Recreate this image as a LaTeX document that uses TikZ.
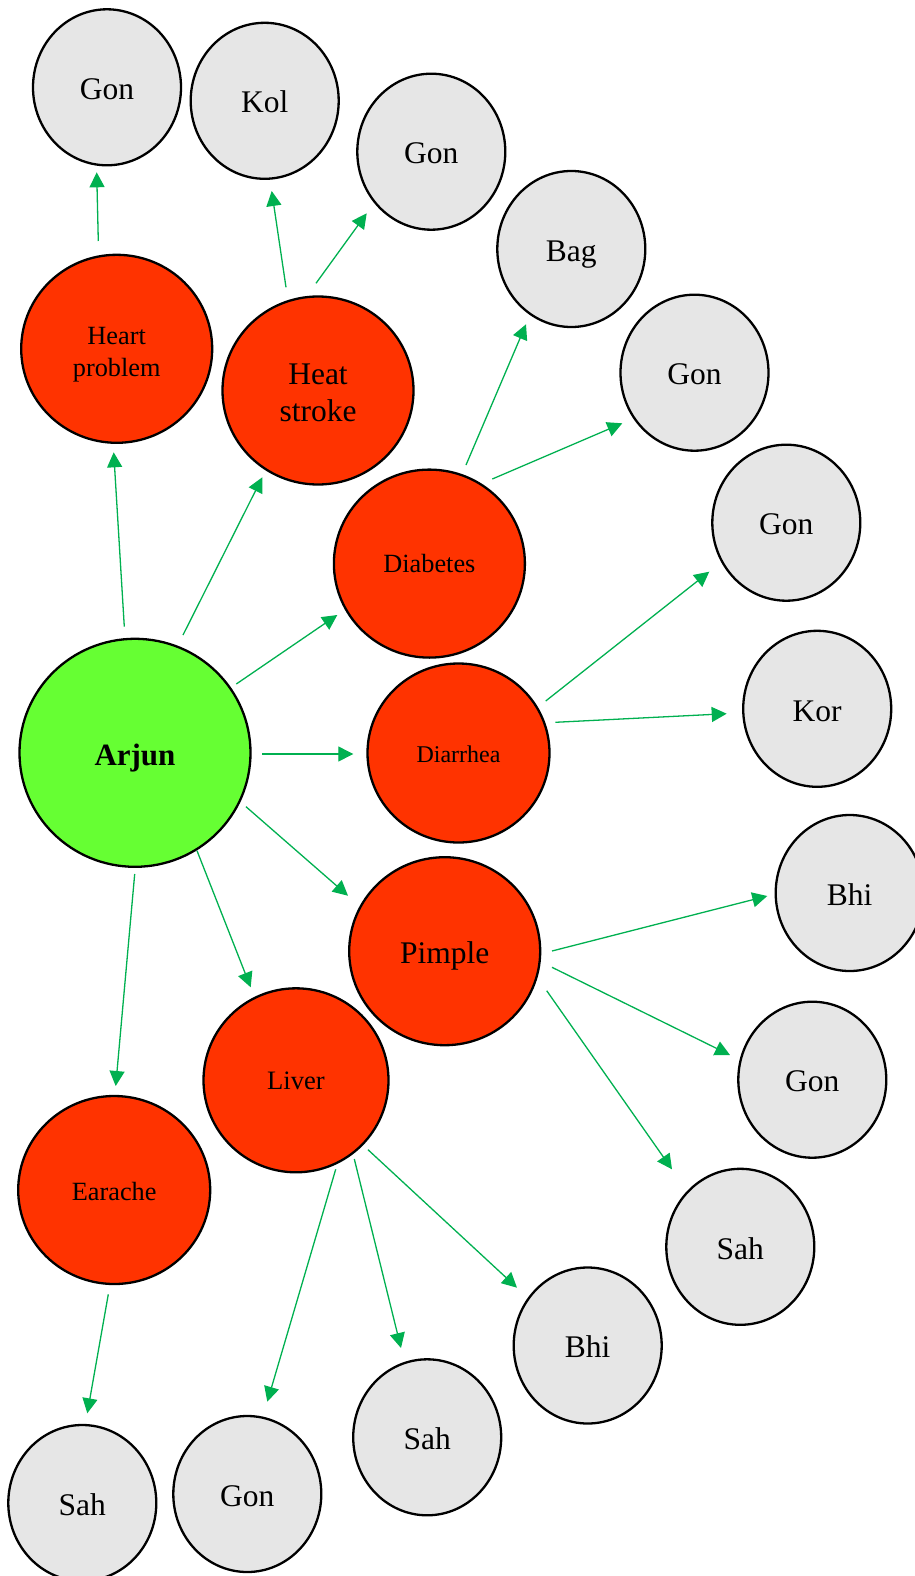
\documentclass[tikz,border=0pt]{standalone}
\usepackage{fontspec}
\setmainfont{Liberation Serif}
\usetikzlibrary{shapes.geometric,arrows.meta,calc}
\definecolor{rootgreen}{HTML}{66FF33}
\definecolor{disred}{HTML}{FF3300}
\definecolor{leafgrey}{HTML}{E6E6E6}
\definecolor{arrgreen}{HTML}{00B050}
\newcommand{\twolines}[3]{\raisebox{0pt}[\dimexpr\height+#1\relax]{\begin{tabular}{@{}c@{}}#2\\#3\end{tabular}}}
\tikzset{
  root/.style={ellipse,draw=black,line width=2.3pt,fill=rootgreen,minimum width=231pt,minimum height=228pt,inner sep=0pt,text height=25.8pt,text depth=0pt,font=\fontsize{31}{36}\selectfont\bfseries},
  dis/.style={ellipse,draw=black,line width=2.3pt,fill=disred,minimum width=191pt,minimum height=188pt,inner sep=0pt,font=\fontsize{26.3}{32.2}\selectfont},
  disbig/.style={dis,font=\fontsize{31.5}{37}\selectfont},
  leaf/.style={ellipse,draw=black,line width=2.3pt,fill=leafgrey,minimum width=148pt,minimum height=156pt,inner sep=0pt,text height=24.4pt,text depth=0pt,font=\fontsize{31.5}{36}\selectfont},
  arr/.style={draw=arrgreen,line width=1.3pt,-{Triangle[length=15pt,width=15pt]},arrgreen}
}
\begin{document}
\begin{tikzpicture}[x=1pt,y=-1pt]
\useasboundingbox (0,0) rectangle (915,1576);
\clip (0,0) rectangle (915,1576);
% root
\node[root] (arjun) at (135,752.8) {Arjun};
% diseases
\node[dis] (heart) at (116.7,348.8) {\twolines{10.5pt}{Heart}{problem}};
\node[disbig] (heat) at (318,390.5) {\twolines{10pt}{Heat}{stroke}};
\node[dis,text height=17.4pt,text depth=0pt] (diab) at (429.4,563.6) {Diabetes};
\node[dis,minimum width=182pt,minimum height=179pt,text height=18.6pt,text depth=0pt,font=\fontsize{24}{28}\selectfont] (diar) at (458.5,753) {Diarrhea};
\node[disbig,text height=24.2pt,text depth=0pt] (pimple) at (444.7,951.2) {Pimple};
\node[dis,minimum width=185pt,minimum height=184pt,text height=18pt,text depth=0pt,font=\fontsize{26.6}{31}\selectfont] (liver) at (296,1080.3) {Liver};
\node[dis,minimum width=192pt,text height=20pt,text depth=0pt] (earache) at (114.2,1190) {Earache};
% leaves
\node[leaf] (g1) at (107,87.3) {Gon};
\node[leaf] (g2) at (264.7,100.8) {Kol};
\node[leaf] (g3) at (431.3,151.7) {Gon};
\node[leaf] (g4) at (571.3,249) {Bag};
\node[leaf] (g5) at (694.5,372.7) {Gon};
\node[leaf] (g6) at (786.3,522.7) {Gon};
\node[leaf] (g7) at (817.2,708.8) {Kor};
\node[leaf] (g8) at (849.7,893) {Bhi};
\node[leaf] (g9) at (812.3,1079.7) {Gon};
\node[leaf] (g10) at (740.3,1246.8) {Sah};
\node[leaf] (g11) at (587.7,1345.5) {Bhi};
\node[leaf] (g12) at (427.2,1437.3) {Sah};
\node[leaf] (g13) at (247.3,1494) {Gon};
\node[leaf] (g14) at (82.3,1503) {Sah};
% connectors
\draw[arr] ($(arjun.center)+(-10.7,-126.1)$) -- ($(heart.center)+(-3,103.5)$);
\draw[arr] ($(arjun.center)+(48,-117.8)$) -- ($(heat.center)+(-55.7,86.8)$);
\draw[arr] ($(arjun.center)+(101.3,-68.8)$) -- ($(diab.center)+(-92.1,51.4)$);
\draw[arr] ($(arjun.center)+(127.3,1.2)$) -- ($(diar.center)+(-105.2,1)$);
\draw[arr] ($(arjun.center)+(111,53.9)$) -- ($(pimple.center)+(-96.7,-55.5)$);
\draw[arr] ($(arjun.center)+(62,97.9)$) -- ($(liver.center)+(-45.3,-93)$);
\draw[arr] ($(arjun.center)+(-0.3,121.2)$) -- ($(earache.center)+(1.5,-104)$);
\draw[arr] ($(heart.center)+(-18.4,-107.8)$) -- ($(g1.center)+(-10.3,85)$);
\draw[arr] ($(heat.center)+(-32,-103.2)$) -- ($(g2.center)+(7,90.2)$);
\draw[arr] ($(heat.center)+(-2,-107.2)$) -- ($(g3.center)+(-64.6,61.6)$);
\draw[arr] ($(diab.center)+(36.6,-98.6)$) -- ($(g4.center)+(-45.3,75.3)$);
\draw[arr] ($(diab.center)+(62.9,-84.6)$) -- ($(g5.center)+(-72.2,50.6)$);
\draw[arr] ($(diar.center)+(87.2,-52)$) -- ($(g6.center)+(-77,49)$);
\draw[arr] ($(diar.center)+(96.8,-30.7)$) -- ($(g7.center)+(-90.5,4.9)$);
\draw[arr] ($(pimple.center)+(107.3,-0.2)$) -- ($(g8.center)+(-82.4,3)$);
\draw[arr] ($(pimple.center)+(107.3,16.1)$) -- ($(g9.center)+(-82.3,-24.7)$);
\draw[arr] ($(pimple.center)+(102,39.5)$) -- ($(g10.center)+(-68.3,-77.5)$);
\draw[arr] ($(liver.center)+(39.7,89)$) -- ($(g13.center)+(20,-92.3)$);
\draw[arr] ($(liver.center)+(58.3,78.7)$) -- ($(g12.center)+(-26.2,-89.3)$);
\draw[arr] ($(liver.center)+(72,69.4)$) -- ($(g11.center)+(-70.7,-57.8)$);
\draw[arr] ($(earache.center)+(-5.9,104.3)$) -- ($(g14.center)+(5,-89.7)$);
\end{tikzpicture}
\end{document}
